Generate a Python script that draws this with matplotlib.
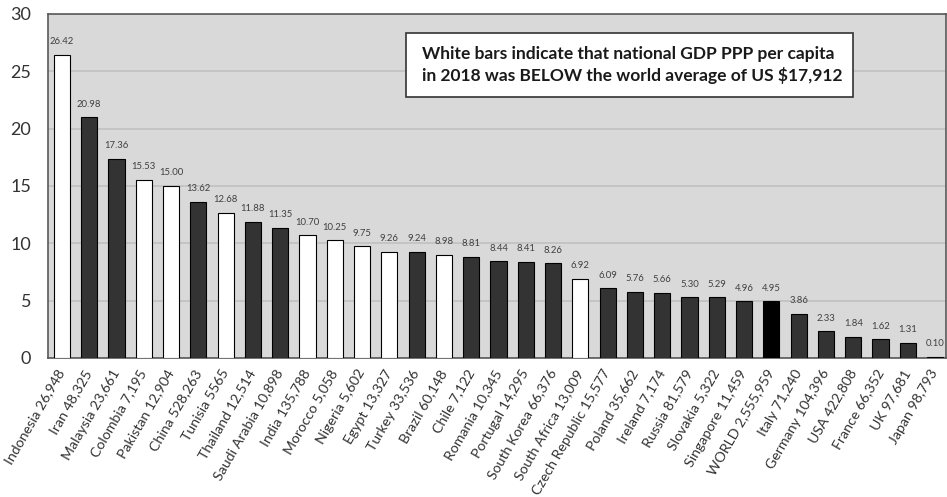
import matplotlib.pyplot as plt
from matplotlib.patches import Rectangle
import numpy as np

plt.rcParams['font.family'] = ['Lato', 'DejaVu Sans']

countries = ['Indonesia 26,948', 'Iran 48,325', 'Malaysia 23,661', 'Colombia 7,195',
             'Pakistan 12,904', 'China 528,263', 'Tunisia 5565', 'Thailand 12,514',
             'Saudi Arabia 10,898', 'India 135,788', 'Morocco 5,058', 'Nigeria 5,602',
             'Egypt 13,327', 'Turkey 33,536', 'Brazil 60,148', 'Chile 7,122',
             'Romania 10,345', 'Portugal 14,295', 'South Korea 66,376', 'South Africa 13,009',
             'Czech Republic 15,577', 'Poland 35,662', 'Ireland 7,174', 'Russia 81,579',
             'Slovakia 5,322', 'Singapore 11,459', 'WORLD 2,555,959', 'Italy 71,240',
             'Germany 104,396', 'USA 422,808', 'France 66,352', 'UK 97,681', 'Japan 98,793']
values = [26.42, 20.98, 17.36, 15.53, 15.00, 13.62, 12.68, 11.88, 11.35, 10.70,
          10.25, 9.75, 9.26, 9.24, 8.98, 8.81, 8.44, 8.41, 8.26, 6.92,
          6.09, 5.76, 5.66, 5.30, 5.29, 4.96, 4.95, 3.86, 2.33, 1.84,
          1.62, 1.31, 0.10]
# 'w' = below world average, 'd' = above, 'k' = world
kind = ['w', 'd', 'd', 'w', 'w', 'd', 'w', 'd', 'd', 'w',
        'w', 'w', 'w', 'd', 'w', 'd', 'd', 'd', 'd', 'w',
        'd', 'd', 'd', 'd', 'd', 'd', 'k', 'd', 'd', 'd',
        'd', 'd', 'd']
note = 'White bars indicate that national GDP PPP per capita\nin 2018 was BELOW the world average of US $17,912'

colmap = {'w': 'white', 'd': '#333333', 'k': 'black'}
colors = [colmap[k] for k in kind]

fig = plt.figure(figsize=(9.47, 4.97), dpi=100)
ax = fig.add_axes([48/947, 1 - 358/497, 898/947, 344/497])
ax.set_facecolor('#d9d9d9')

x = np.arange(len(values))
ax.bar(x, values, width=0.59, color=colors, edgecolor='black', linewidth=0.8, zorder=3)
for xi, v in zip(x, values):
    ax.text(xi, v + 0.75, '%.2f' % v, ha='center', va='bottom', fontsize=6.8, color='#404040')

ax.set_xlim(-0.51, len(values) - 0.6)
ax.set_ylim(0, 30)
ax.set_yticks(range(0, 31, 5))
ax.yaxis.grid(True, color='#c0c0c0', linewidth=1.2, zorder=0)
ax.tick_params(axis='y', length=0, labelsize=13, colors='#333333', pad=12)
ax.tick_params(axis='x', length=0, pad=9)
ax.set_xticks(x)
ax.set_xticklabels(countries, rotation=60, ha='right', va='center', rotation_mode='anchor',
                   fontsize=10.2, color='#333333')
for s in ax.spines.values():
    s.set_color('#595959')
    s.set_linewidth(1.2)

# note box
ax.add_patch(Rectangle((0.399, 0.759), 0.497, 0.186, transform=ax.transAxes,
                       facecolor='white', edgecolor='#333333', linewidth=1.2, zorder=5))
ax.text(0.4165, 0.852, note, transform=ax.transAxes, ha='left', va='center',
        fontsize=12.5, fontweight='bold', linespacing=1.35, color='#1a1a1a', zorder=6)

fig.savefig('out.png', dpi=100)
